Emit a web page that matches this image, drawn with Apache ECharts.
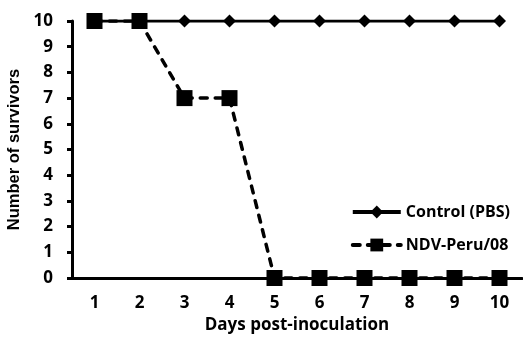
<!DOCTYPE html>
<html><head><meta charset="utf-8">
<script src="https://cdn.jsdelivr.net/npm/echarts@6/dist/echarts.min.js"></script>
<style>html,body{margin:0;padding:0;background:#fff}#c{width:523px;height:337px}</style>
</head><body><div id="c"></div>
<script>
var days = ['1','2','3','4','5','6','7','8','9','10'];
var controlPBS = [10,10,10,10,10,10,10,10,10,10];
var ndvPeru08 = [10,10,7,7,0,0,0,0,0,0];
var yTicks = [0,1,2,3,4,5,6,7,8,9,10];
var F = '"Open Sans", Lato, sans-serif';
var chart = echarts.init(document.getElementById('c'));
chart.setOption({
  animation:false,
  grid:{left:72,right:1,top:21,bottom:59,containLabel:false,outerBoundsMode:'none'},
  legend:{
    orient:'vertical', right:8, top:199, itemWidth:48, itemHeight:16, itemGap:17,
    lineStyle:{width:4},
    textStyle:{fontFamily:F,fontWeight:'bold',fontSize:16,color:'#000'},
    data:['Control (PBS)','NDV-Peru/08']
  },
  xAxis:{
    type:'category', data:days, boundaryGap:true,
    name:'Days post-inoculation', nameLocation:'middle', nameGap:38,
    nameTextStyle:{fontFamily:F,fontWeight:'bold',fontSize:17,color:'#000'},
    axisLine:{lineStyle:{color:'#000',width:3}},
    axisTick:{alignWithLabel:false,length:5,lineStyle:{color:'#000',width:3}},
    axisLabel:{fontFamily:F,fontWeight:'bold',fontSize:17,color:'#000',margin:17},
    splitLine:{show:false}
  },
  yAxis:{
    type:'value', min:0, max:10, interval:1,
    name:'Number of survivors', nameLocation:'middle', nameGap:43, nameRotate:90,
    nameTextStyle:{fontFamily:'"Liberation Sans", Arial, sans-serif',fontWeight:'bold',fontSize:16.5,color:'#000'},
    axisLine:{show:true,lineStyle:{color:'#000',width:3}},
    axisTick:{show:true,length:5,lineStyle:{color:'#000',width:3}},
    axisLabel:{fontFamily:F,fontWeight:'bold',fontSize:17,color:'#000',margin:19},
    splitLine:{show:false}
  },
  series:[
    {name:'Control (PBS)',type:'line',data:controlPBS,symbol:'diamond',symbolSize:13,
     lineStyle:{color:'#000',width:3,type:'solid'},itemStyle:{color:'#000'},z:2},
    {name:'NDV-Peru/08',type:'line',data:ndvPeru08,symbol:'rect',symbolSize:16,
     lineStyle:{color:'#000',width:3.5,type:[7,8],cap:'round'},itemStyle:{color:'#000'},z:3}
  ]
});
</script></body></html>
